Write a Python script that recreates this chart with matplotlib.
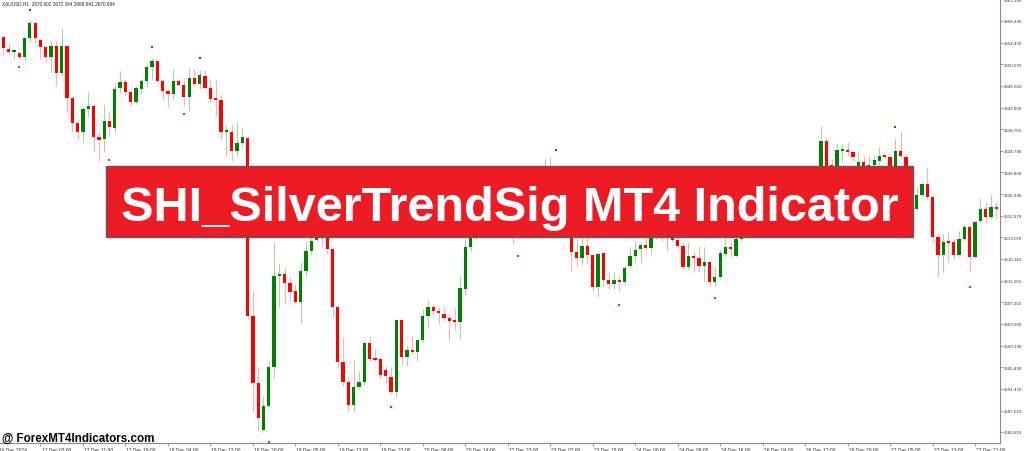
import numpy as np
import matplotlib.pyplot as plt
from matplotlib.patches import Rectangle
from matplotlib.transforms import blended_transform_factory

# XAUUSD H1 candles, 16 Dec - 27 Dec 2024
opens = [
    2655.5, 2653.3, 2652.8, 2652.6, 2651.9, 2655.3, 2658.1, 2655.0, 2653.7, 2651.9,
    2653.9, 2649.0, 2653.9, 2644.4, 2639.9, 2638.2, 2642.4, 2643.0, 2637.3, 2637.0,
    2640.2, 2639.0, 2646.2, 2647.3, 2645.5, 2643.7, 2646.1, 2647.5, 2650.1, 2651.2,
    2647.5, 2645.7, 2645.1, 2647.5, 2646.8, 2644.6, 2648.1, 2647.0, 2648.4, 2646.2,
    2644.2, 2644.1, 2638.2, 2638.2, 2634.8, 2636.2, 2637.1, 2604.7, 2592.5, 2584.0,
    2588.4, 2595.5, 2612.0, 2612.4, 2610.7, 2609.3, 2607.3, 2612.9, 2616.6, 2618.6,
    2620.6, 2619.5, 2616.9, 2606.4, 2596.4, 2592.7, 2588.5, 2591.8, 2592.7, 2599.8,
    2597.1, 2596.9, 2594.9, 2593.6, 2590.9, 2604.0, 2597.3, 2598.6, 2598.2, 2600.4,
    2604.7, 2606.4, 2605.7, 2605.1, 2604.4, 2604.0, 2603.6, 2609.7, 2617.3, 2619.3,
    2620.9, 2623.3, 2622.0, 2626.0, 2624.2, 2622.4, 2622.0, 2621.5, 2620.6, 2624.2,
    2626.9, 2628.8, 2630.6, 2631.4, 2629.7, 2627.9, 2625.1, 2621.3, 2616.4, 2615.3,
    2617.5, 2615.8, 2610.0, 2616.2, 2611.3, 2610.6, 2611.3, 2610.9, 2613.8, 2615.7,
    2616.9, 2617.7, 2617.1, 2618.9, 2620.9, 2620.2, 2620.2, 2618.6, 2617.5, 2613.7,
    2615.7, 2615.3, 2613.8, 2614.6, 2610.9, 2611.8, 2616.0, 2617.3, 2615.7, 2618.8,
    2620.6, 2622.4, 2621.3, 2624.2, 2625.1, 2623.3, 2626.4, 2627.9, 2626.0, 2628.8,
    2630.0, 2628.2, 2628.8, 2630.0, 2631.1, 2636.6, 2632.2, 2631.5, 2634.8, 2635.0,
    2634.6, 2631.5, 2632.8, 2631.5, 2632.2, 2633.0, 2633.9, 2633.7, 2631.5, 2634.8,
    2633.7, 2631.1, 2624.2, 2626.8, 2628.8, 2626.4, 2619.1, 2615.8, 2618.2, 2618.2,
    2615.8, 2618.8, 2620.9, 2615.5, 2622.0, 2624.2, 2622.8, 2624.6,
]
highs = [
    2655.7, 2654.2, 2653.3, 2652.8, 2655.7, 2658.6, 2658.2, 2655.3, 2653.9, 2654.8,
    2654.8, 2657.2, 2653.9, 2644.8, 2640.6, 2642.8, 2645.5, 2643.3, 2638.2, 2643.1,
    2641.9, 2647.0, 2649.3, 2647.9, 2646.1, 2646.6, 2647.9, 2650.6, 2651.7, 2651.3,
    2647.9, 2646.1, 2649.7, 2647.9, 2647.5, 2649.9, 2649.7, 2649.5, 2649.5, 2647.9,
    2647.7, 2645.1, 2639.5, 2639.7, 2640.0, 2639.1, 2637.3, 2609.3, 2595.5, 2590.2,
    2596.6, 2618.2, 2614.4, 2613.5, 2611.8, 2610.6, 2614.6, 2618.2, 2620.2, 2621.5,
    2621.3, 2620.2, 2617.3, 2606.6, 2600.9, 2593.6, 2596.7, 2594.7, 2600.0, 2601.1,
    2598.7, 2597.3, 2595.6, 2595.5, 2604.2, 2604.4, 2599.3, 2601.1, 2600.6, 2606.0,
    2607.7, 2606.9, 2606.4, 2606.4, 2605.1, 2606.2, 2611.8, 2618.8, 2620.9, 2621.8,
    2624.0, 2624.2, 2626.8, 2627.0, 2625.0, 2623.2, 2622.8, 2622.2, 2624.8, 2627.6,
    2629.5, 2631.2, 2633.3, 2633.7, 2631.2, 2628.6, 2626.0, 2622.0, 2618.8, 2619.1,
    2620.6, 2616.0, 2616.4, 2616.4, 2612.7, 2612.7, 2612.0, 2613.8, 2617.3, 2618.4,
    2618.2, 2620.6, 2619.3, 2621.5, 2622.0, 2621.5, 2620.9, 2620.2, 2618.2, 2618.2,
    2616.4, 2617.5, 2617.3, 2614.8, 2613.7, 2616.9, 2619.1, 2618.2, 2620.6, 2621.5,
    2623.0, 2623.1, 2624.8, 2625.9, 2625.8, 2627.0, 2628.6, 2628.5, 2629.4, 2630.7,
    2630.6, 2629.6, 2630.8, 2630.9, 2639.3, 2637.3, 2633.3, 2636.2, 2636.0, 2636.4,
    2634.8, 2634.8, 2633.9, 2633.9, 2633.9, 2635.5, 2634.2, 2633.9, 2637.1, 2638.4,
    2634.2, 2631.5, 2628.0, 2629.1, 2631.7, 2626.6, 2619.7, 2619.7, 2620.0, 2618.8,
    2620.2, 2621.5, 2621.1, 2622.0, 2626.2, 2625.5, 2626.9, 2625.5,
]
lows = [
    2652.1, 2652.4, 2651.5, 2651.5, 2651.2, 2654.6, 2654.4, 2651.5, 2651.0, 2649.1,
    2646.6, 2648.4, 2641.9, 2638.2, 2637.0, 2636.4, 2641.0, 2634.8, 2633.0, 2634.6,
    2637.5, 2638.0, 2645.3, 2644.8, 2643.0, 2643.3, 2645.1, 2646.4, 2647.9, 2647.3,
    2644.2, 2642.8, 2644.2, 2646.6, 2643.0, 2642.1, 2646.6, 2646.2, 2646.1, 2643.7,
    2641.1, 2637.0, 2633.9, 2633.0, 2633.9, 2635.7, 2604.2, 2587.3, 2583.8, 2583.6,
    2588.2, 2593.5, 2606.4, 2606.9, 2607.5, 2606.9, 2603.5, 2611.8, 2616.0, 2618.4,
    2617.5, 2616.0, 2604.6, 2595.5, 2592.0, 2587.3, 2587.3, 2591.5, 2592.2, 2596.6,
    2596.6, 2593.3, 2592.5, 2590.5, 2590.0, 2595.6, 2595.6, 2597.8, 2596.6, 2600.0,
    2602.6, 2604.7, 2603.3, 2603.8, 2600.2, 2602.2, 2600.6, 2608.6, 2616.6, 2618.6,
    2620.3, 2621.4, 2621.6, 2623.6, 2621.8, 2620.2, 2617.8, 2618.8, 2620.0, 2623.6,
    2626.2, 2628.2, 2629.9, 2629.0, 2627.2, 2624.4, 2620.8, 2612.9, 2613.8, 2614.2,
    2614.2, 2609.3, 2608.2, 2610.0, 2609.7, 2609.7, 2609.3, 2610.6, 2613.5, 2614.6,
    2614.6, 2616.8, 2616.0, 2618.8, 2618.4, 2616.6, 2618.2, 2616.9, 2613.3, 2613.1,
    2612.7, 2612.7, 2611.1, 2610.2, 2610.2, 2611.5, 2615.5, 2615.5, 2615.5, 2618.4,
    2620.0, 2620.6, 2620.8, 2623.6, 2622.7, 2622.9, 2625.9, 2625.4, 2625.6, 2628.2,
    2627.6, 2627.7, 2628.3, 2628.9, 2630.6, 2630.6, 2630.6, 2630.8, 2632.8, 2633.9,
    2633.0, 2631.1, 2631.1, 2631.1, 2631.9, 2632.2, 2633.3, 2631.1, 2631.1, 2633.5,
    2630.4, 2624.3, 2623.9, 2626.6, 2626.0, 2618.2, 2611.8, 2612.7, 2614.6, 2615.1,
    2615.5, 2618.4, 2612.7, 2615.3, 2621.8, 2621.7, 2622.4, 2622.4,
]
closes = [
    2653.5, 2652.8, 2653.0, 2651.9, 2655.3, 2658.1, 2655.3, 2653.7, 2651.9, 2653.9,
    2649.0, 2653.9, 2644.4, 2639.9, 2638.2, 2642.4, 2643.0, 2637.3, 2636.8, 2640.2,
    2639.1, 2646.1, 2647.3, 2645.5, 2643.7, 2646.2, 2647.5, 2650.1, 2651.2, 2647.5,
    2645.7, 2645.1, 2647.5, 2646.8, 2644.6, 2648.1, 2647.0, 2648.6, 2646.2, 2644.2,
    2644.1, 2638.2, 2638.4, 2634.8, 2636.2, 2637.3, 2604.7, 2592.5, 2586.2, 2588.4,
    2595.5, 2612.0, 2612.4, 2610.7, 2609.1, 2607.3, 2612.9, 2616.6, 2618.4, 2620.6,
    2619.5, 2616.9, 2606.4, 2596.4, 2592.7, 2588.5, 2591.8, 2592.7, 2599.8, 2596.9,
    2596.7, 2594.0, 2593.8, 2590.9, 2604.0, 2597.3, 2598.6, 2598.2, 2600.4, 2604.7,
    2606.4, 2605.7, 2605.3, 2604.4, 2603.8, 2603.6, 2609.8, 2617.3, 2619.3, 2620.9,
    2623.3, 2622.0, 2626.0, 2624.2, 2622.4, 2620.9, 2620.2, 2620.6, 2624.2, 2626.9,
    2628.8, 2630.6, 2631.4, 2629.7, 2627.9, 2625.1, 2621.5, 2616.4, 2615.3, 2617.5,
    2615.8, 2610.0, 2616.0, 2611.3, 2610.6, 2611.3, 2610.9, 2613.5, 2615.7, 2616.8,
    2617.7, 2617.1, 2618.9, 2620.2, 2619.8, 2619.5, 2618.6, 2617.5, 2613.7, 2615.7,
    2615.3, 2613.8, 2614.6, 2610.9, 2611.8, 2616.2, 2617.3, 2616.9, 2618.8, 2620.6,
    2622.4, 2621.3, 2624.2, 2625.1, 2623.3, 2626.4, 2627.9, 2626.0, 2628.8, 2630.0,
    2628.2, 2628.8, 2630.0, 2629.6, 2636.6, 2631.5, 2631.3, 2635.0, 2635.1, 2634.6,
    2633.7, 2632.8, 2631.5, 2632.2, 2633.1, 2633.9, 2633.7, 2631.5, 2634.8, 2633.9,
    2631.1, 2624.4, 2626.8, 2628.8, 2626.4, 2619.1, 2615.8, 2618.2, 2618.0, 2615.8,
    2618.8, 2620.9, 2615.5, 2621.8, 2624.2, 2622.8, 2624.6, 2624.2,
]

# SilverTrend signal dots (bar number, price)
sell_bars = [6, 29, 38, 105, 169]
sell_prices = [2660.4, 2653.7, 2651.7, 2635.0, 2639.1]
buy_bars = [4, 21, 35, 51, 74, 98, 117, 135, 183]
buy_prices = [2650.1, 2633.1, 2641.5, 2581.8, 2588.2, 2615.7, 2606.7, 2608.0, 2610.0]

price_ticks = [2662.390, 2658.430, 2654.470, 2650.570, 2646.610, 2642.650, 2638.750,
               2634.790, 2630.890, 2626.930, 2622.970, 2619.070, 2615.110, 2611.150,
               2607.250, 2603.290, 2599.330, 2595.430, 2591.470, 2587.510, 2583.610]
date_labels = ['16 Dec 2024', '17 Dec 03:00', '17 Dec 11:00', '17 Dec 19:00',
               '18 Dec 04:00', '18 Dec 12:00', '18 Dec 20:00', '19 Dec 05:00',
               '19 Dec 13:00', '19 Dec 21:00', '20 Dec 06:00', '20 Dec 14:00',
               '22 Dec 23:00', '23 Dec 07:00', '23 Dec 15:00', '24 Dec 00:00',
               '24 Dec 08:00', '24 Dec 16:00', '26 Dec 04:00', '26 Dec 12:00',
               '26 Dec 20:00', '27 Dec 05:00', '27 Dec 13:00', '27 Dec 21:00']
date_bars = [0, 8, 16, 24, 32, 40, 48, 56, 64, 72, 80, 88, 96, 104, 112, 120,
             128, 136, 144, 152, 160, 168, 176, 184]

header = 'XAUUSD,H1  2670.602 2672.344 2668.941 2670.694'
title = 'SHI_SilverTrendSig MT4 Indicator'
watermark = '@ ForexMT4Indicators.com'

plt.rcParams['font.family'] = ['Liberation Sans', 'DejaVu Sans']

W, H = 1024, 452
fig = plt.figure(figsize=(W / 100, H / 100), dpi=100)
fig.patch.set_facecolor('white')
ax = fig.add_axes([0, 8 / H, 1000 / W, 444 / H])

o = np.array(opens)
c = np.array(closes)
hi = np.array(highs)
lo = np.array(lows)
x = np.arange(1, len(o) + 1)
up = c >= o

# wicks first, bodies on top
wick_cols = np.where(up, '#a8d4a8', '#ffb0b0')
ax.vlines(x, lo, hi, colors=wick_cols, linewidth=0.8, zorder=2)
body_low = np.minimum(o, c)
body_h = np.maximum(np.abs(c - o), 0.3)
body_cols = np.where(up, '#008000', '#ff0000')
ax.bar(x, body_h, bottom=body_low, width=0.62, color=body_cols, linewidth=0, zorder=3)

ax.scatter(sell_bars, sell_prices, marker='s', s=2.5, color='#3a3aff', linewidths=0, zorder=4)
ax.scatter(buy_bars, buy_prices, marker='s', s=2.5, color='#ff2a2a', linewidths=0, zorder=4,
           clip_on=False)

ax.set_xlim(0.38, 188.7)
ax.set_ylim(2581.6, 2662.43)

for s in ['top', 'left']:
    ax.spines[s].set_visible(False)
for s in ['right', 'bottom']:
    ax.spines[s].set_color('#8a8a8a')
    ax.spines[s].set_linewidth(0.8)

ax.yaxis.tick_right()
ax.set_yticks(price_ticks)
ax.set_yticklabels(['%.3f' % p for p in price_ticks])
ax.tick_params(axis='y', direction='out', length=2.0, width=0.6, color='#8a8a8a',
               labelsize=3.2, labelcolor='#333333', pad=0.8)

ax.set_xticks(date_bars[1:])
ax.set_xticklabels([])
ax.tick_params(axis='x', direction='out', length=2.5, width=0.6, color='#8a8a8a')
trans = blended_transform_factory(ax.transData, ax.transAxes)
for b, lab in zip(date_bars, date_labels):
    ax.text(b + 0.2, -0.008, lab, transform=trans, ha='left', va='top',
            fontsize=3.5, color='#333333', clip_on=False)

fig.text(2 / W, 1 - 3.5 / H, header, ha='left', va='center', fontsize=3.4, color='#222222')

fig.text(2 / W, 1 - 442 / H, watermark, ha='left', va='baseline', fontsize=8.4,
         fontweight='bold', color='black')

# banner on top of the chart
banner = Rectangle((106 / W, 1 - 238 / H), 807 / W, 71 / H, transform=fig.transFigure,
                   facecolor='#ed1c24', edgecolor='#5a5a5a', linewidth=1.0, zorder=10)
fig.add_artist(banner)
fig.text(510 / W, 1 - 221 / H, title, ha='center', va='baseline', fontsize=35,
         fontweight='bold', color='white', zorder=11)

fig.savefig('out.png', dpi=100, facecolor='white')
